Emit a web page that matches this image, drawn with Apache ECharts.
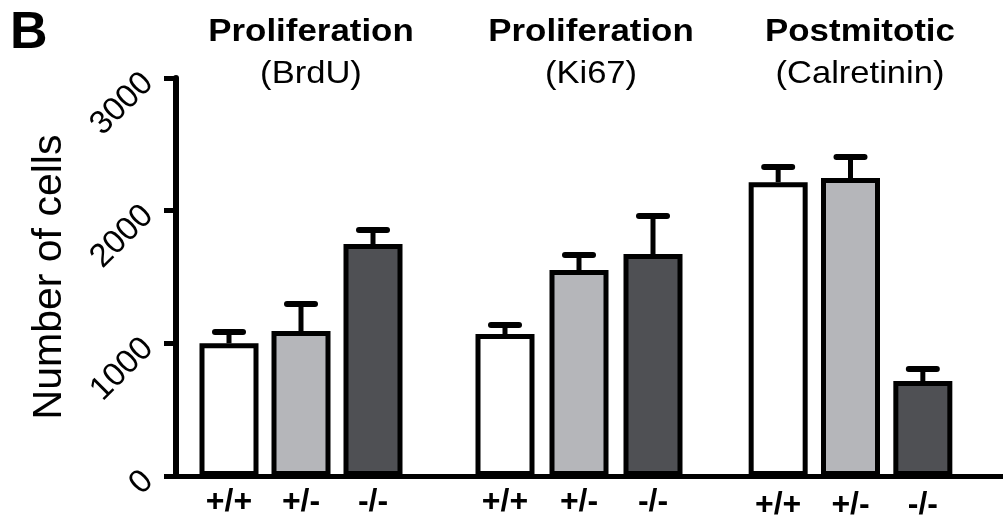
<!DOCTYPE html>
<html>
<head>
<meta charset="utf-8">
<script src="https://cdn.jsdelivr.net/npm/echarts@6/dist/echarts.min.js"></script>
<style>html,body{margin:0;padding:0;background:#fff}#c{width:1003px;height:515px}</style>
</head>
<body>
<div id="c"></div>
<script>
// ---- data ----
const genotypes = ['+/+', '+/-', '-/-'];
const groupTitles = ['Proliferation', 'Proliferation', 'Postmitotic'];
const groupSubtitles = ['(BrdU)', '(Ki67)', '(Calretinin)'];
const brduMean = [1000, 1093, 1748];
const brduErr  = [85, 203, 106];
const ki67Mean = [1070, 1552, 1673];
const ki67Err  = [68, 113, 286];
const calrMean = [2215, 2246, 716];
const calrErr  = [114, 158, 90];
const yTicks = [0, 1000, 2000, 3000];
const yName = 'Number of cells';
const panelLabel = 'B';

// ---- styles ----
const FONT = 'Liberation Sans, Arial, Helvetica, sans-serif';
const barColors = ['#ffffff', '#b5b6ba', '#4f5054'];
const groups = [
  { mean: brduMean, err: brduErr, left: 193, width: 216, cx: 311, lblMargin: 10 },
  { mean: ki67Mean, err: ki67Err, left: 468, width: 222, cx: 591, lblMargin: 10 },
  { mean: calrMean, err: calrErr, left: 742, width: 217, cx: 860, lblMargin: 13 }
];
const TOP = 78, BOTTOM = 39;

const grid = [{ left: 176, right: 0, top: TOP, bottom: BOTTOM, outerBoundsMode: 'none' }];
const xAxis = [{
  gridIndex: 0, type: 'value', min: 0, max: 1,
  axisLine: { show: true, onZero: false, lineStyle: { color: '#000', width: 5 } },
  axisTick: { show: false }, axisLabel: { show: false }, splitLine: { show: false }
}];
const yAxis = [{
  gridIndex: 0, type: 'value', min: yTicks[0], max: yTicks[yTicks.length - 1], interval: 1000,
  name: yName, nameLocation: 'middle', nameGap: 106,
  nameTextStyle: { fontFamily: FONT, fontSize: 41, color: '#000' },
  axisLine: { show: true, lineStyle: { color: '#000', width: 6 } },
  axisTick: { show: true, length: 12, lineStyle: { color: '#000', width: 5 } },
  axisLabel: { rotate: 45, margin: 28, fontFamily: FONT, fontSize: 33, color: '#000',
    formatter: v => String(v) },
  splitLine: { show: false }
}];
const series = [];
const graphics = [{
  type: 'text', left: 10, top: 8,
  style: { text: panelLabel, font: 'bold 52px ' + FONT, fill: '#000' }
}];

groups.forEach((g, i) => {
  const gi = i + 1;
  grid.push({ left: g.left, width: g.width, top: TOP, bottom: BOTTOM, outerBoundsMode: 'none' });
  xAxis.push({
    gridIndex: gi, type: 'category', data: genotypes,
    axisLine: { show: false }, axisTick: { show: false },
    axisLabel: { margin: g.lblMargin, fontFamily: FONT, fontSize: 32, fontWeight: 'bold', color: '#000' }
  });
  yAxis.push({
    gridIndex: gi, type: 'value', min: yTicks[0], max: yTicks[yTicks.length - 1], show: false
  });
  series.push({
    type: 'bar', xAxisIndex: gi, yAxisIndex: gi, barWidth: 59, z: 2,
    data: g.mean.map((v, k) => ({
      value: v,
      itemStyle: { color: barColors[k], borderColor: '#000', borderWidth: 5 }
    }))
  });
  series.push({
    type: 'custom', xAxisIndex: gi, yAxisIndex: gi, z: 1,
    data: g.mean.map((v, k) => [k, v, g.err[k]]),
    renderItem: function (params, api) {
      const x = api.value(0), m = api.value(1), e = api.value(2);
      const p0 = api.coord([x, m]);
      const p1 = api.coord([x, m + e]);
      const half = 14;
      return {
        type: 'group',
        children: [
          { type: 'line', shape: { x1: p0[0], y1: p0[1], x2: p1[0], y2: p1[1] },
            style: { stroke: '#000', lineWidth: 5 } },
          { type: 'line', shape: { x1: p1[0] - half, y1: p1[1], x2: p1[0] + half, y2: p1[1] },
            style: { stroke: '#000', lineWidth: 6, lineCap: 'round' } }
        ]
      };
    }
  });
  graphics.push({
    type: 'text', x: g.cx, y: 32, scaleX: 1.09,
    style: { text: groupTitles[i], font: 'bold 32px ' + FONT, fill: '#000', textAlign: 'center', textVerticalAlign: 'middle' }
  });
  graphics.push({
    type: 'text', x: g.cx, y: 74, scaleX: 1.08,
    style: { text: groupSubtitles[i], font: '32px ' + FONT, fill: '#000', textAlign: 'center', textVerticalAlign: 'middle' }
  });
});

const chart = echarts.init(document.getElementById('c'), null, { renderer: 'canvas' });
chart.setOption({
  animation: false,
  backgroundColor: '#fff',
  grid, xAxis, yAxis, series,
  graphic: graphics
});
</script>
</body>
</html>
